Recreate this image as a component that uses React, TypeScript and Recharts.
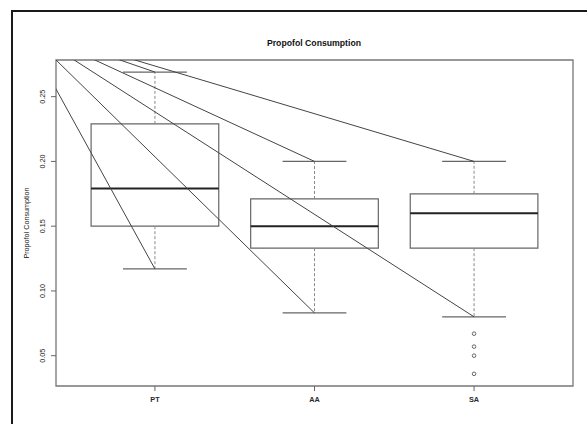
import React from "react";
import {
  ComposedChart,
  XAxis,
  YAxis,
  Scatter,
  ReferenceLine,
  ReferenceArea,
} from "recharts";

const categories = ["PT", "AA", "SA"];
const positions = [1, 2, 3];
const lowerWhisker = [0.117, 0.083, 0.08];
const lowerQuartile = [0.15, 0.133, 0.133];
const medians = [0.179, 0.15, 0.16];
const upperQuartile = [0.229, 0.171, 0.175];
const upperWhisker = [0.269, 0.2, 0.2];
const saOutliers = [0.067, 0.057, 0.05, 0.036];
const yTicks = [0.05, 0.1, 0.15, 0.2, 0.25];
// point outside the plot where the stray lines start
const lineOrigin = { x: 0.163, y: 0.3045 };

const xDomain: [number, number] = [0.38, 3.62];
const yDomain: [number, number] = [0.0266, 0.2783];

const outlierData = saOutliers.map((v) => ({ x: 3, y: v }));

const font = "'Liberation Sans', Arial, Helvetica, sans-serif";

const XTick = (props: any) => {
  const { x, y, payload } = props;
  const i = positions.indexOf(payload.value);
  return (
    <text
      x={x}
      y={y + 6.5}
      textAnchor="middle"
      fontSize={7.3}
      fontWeight="bold"
      fill="#2a2a2a"
      fontFamily={font}
    >
      {categories[i]}
    </text>
  );
};

const YTick = (props: any) => {
  const { x, y, payload } = props;
  return (
    <text
      x={x}
      y={y}
      transform={`rotate(-90 ${x} ${y})`}
      textAnchor="middle"
      fontSize={7.2}
      fill="#1a1a1a"
      fontFamily={font}
    >
      {payload.value.toFixed(2)}
    </text>
  );
};

export default function App() {
  return (
    <div
      style={{
        position: "absolute",
        left: 0,
        top: 0,
        width: 587,
        height: 424,
        overflow: "hidden",
        background: "#fff",
      }}
    >
      <div
        style={{
          position: "absolute",
          left: 11,
          top: 10,
          width: 620,
          height: 460,
          borderLeft: "2px solid #1a1a1a",
          borderTop: "2px solid #1a1a1a",
        }}
      />
      <ComposedChart
        width={587}
        height={424}
        margin={{ top: 60, right: 14, bottom: 8, left: 16 }}
        style={{ position: "absolute", left: 0, top: 0 }}
      >
        <XAxis
          type="number"
          dataKey="x"
          domain={xDomain}
          ticks={positions}
          allowDataOverflow
          axisLine={false}
          tickSize={5}
          tickMargin={4}
          tickLine={{ stroke: "#666" }}
          height={30}
          tick={XTick}
        />
        <YAxis
          type="number"
          dataKey="y"
          domain={yDomain}
          ticks={yTicks}
          allowDataOverflow
          axisLine={false}
          tickSize={5}
          tickMargin={6}
          tickLine={{ stroke: "#666" }}
          width={40}
          tick={YTick}
        />
        <ReferenceArea
          x1={xDomain[0]}
          x2={xDomain[1]}
          y1={yDomain[0]}
          y2={yDomain[1]}
          fill="none"
          stroke="#777"
          strokeWidth={1.3}
          fillOpacity={0}
          ifOverflow="visible"
        />
        {positions.map((c, i) => (
          <React.Fragment key={categories[i]}>
            <ReferenceLine
              segment={[
                { x: c, y: upperQuartile[i] },
                { x: c, y: upperWhisker[i] },
              ]}
              stroke="#888"
              strokeDasharray="3 2"
            />
            <ReferenceLine
              segment={[
                { x: c, y: lowerQuartile[i] },
                { x: c, y: lowerWhisker[i] },
              ]}
              stroke="#888"
              strokeDasharray="3 2"
            />
            <ReferenceLine
              segment={[
                { x: c - 0.2, y: upperWhisker[i] },
                { x: c + 0.2, y: upperWhisker[i] },
              ]}
              stroke="#666"
              strokeWidth={1.2}
            />
            <ReferenceLine
              segment={[
                { x: c - 0.2, y: lowerWhisker[i] },
                { x: c + 0.2, y: lowerWhisker[i] },
              ]}
              stroke="#666"
              strokeWidth={1.2}
            />
            <ReferenceArea
              x1={c - 0.4}
              x2={c + 0.4}
              y1={lowerQuartile[i]}
              y2={upperQuartile[i]}
              fill="none"
              fillOpacity={0}
              stroke="#666"
              strokeWidth={1.2}
            />
            <ReferenceLine
              segment={[
                { x: c - 0.4, y: medians[i] },
                { x: c + 0.4, y: medians[i] },
              ]}
              stroke="#222"
              strokeWidth={2}
            />
          </React.Fragment>
        ))}
        <Scatter
          data={outlierData}
          isAnimationActive={false}
          shape={(p: any) => (
            <circle cx={p.cx} cy={p.cy} r={1.8} fill="none" stroke="#666" strokeWidth={1} />
          )}
        />
        {positions.map((c, i) => (
          <React.Fragment key={"l" + categories[i]}>
            <ReferenceLine
              segment={[lineOrigin, { x: c, y: upperWhisker[i] }]}
              stroke="#444"
              ifOverflow="hidden"
            />
            <ReferenceLine
              segment={[lineOrigin, { x: c, y: lowerWhisker[i] }]}
              stroke="#444"
              ifOverflow="hidden"
            />
          </React.Fragment>
        ))}
      </ComposedChart>
      <svg
        width={587}
        height={424}
        style={{ position: "absolute", left: 0, top: 0, pointerEvents: "none" }}
      >
        <text
          x={314}
          y={46.3}
          textAnchor="middle"
          fontSize={8.7}
          fontWeight="bold"
          fill="#111"
          fontFamily={font}
        >
          Propofol Consumption
        </text>
        <text
          x={28.5}
          y={223}
          transform="rotate(-90 28.5 223)"
          textAnchor="middle"
          fontSize={7.2}
          fill="#1a1a1a"
          fontFamily={font}
        >
          Propofol Consumption
        </text>
      </svg>
    </div>
  );
}
